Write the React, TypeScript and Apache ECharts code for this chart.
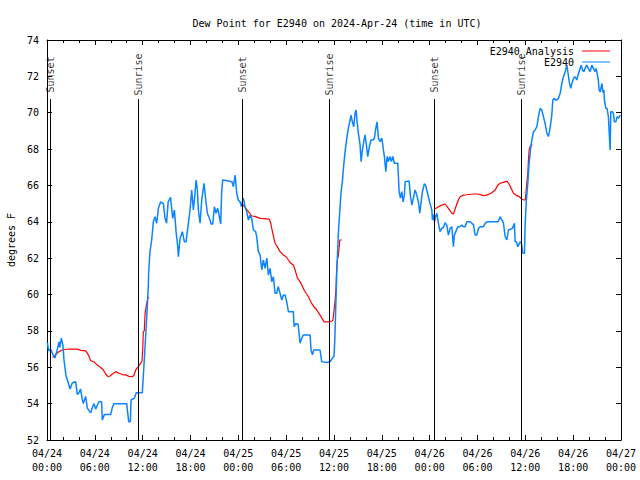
import React, { useEffect, useRef } from "react";
import * as echarts from "echarts";

// x values are hours after 2024-04-24 00:00 UTC
const xTickLabels = [
  "04/24\n00:00", "04/24\n06:00", "04/24\n12:00", "04/24\n18:00",
  "04/25\n00:00", "04/25\n06:00", "04/25\n12:00", "04/25\n18:00",
  "04/26\n00:00", "04/26\n06:00", "04/26\n12:00", "04/26\n18:00",
  "04/27\n00:00",
];

const sunTimes = [0.41, 11.46, 24.5, 35.42, 48.6, 59.51];
const sunLabels = ["Sunset", "Sunrise", "Sunset", "Sunrise", "Sunset", "Sunrise"];

const analysisNight1 = [
  [0.67, 56.55], [0.9, 56.6], [1.09, 56.7], [1.5, 56.86], [1.92, 56.95], [2.34, 56.99],
  [2.76, 57.0], [3.8, 57.0], [4.23, 56.93], [4.85, 56.9], [5.1, 56.75], [5.27, 56.6],
  [5.48, 56.36], [5.9, 56.3], [6.31, 56.12], [6.73, 55.99], [7.07, 55.85], [7.36, 55.63],
  [7.65, 55.48], [7.9, 55.52], [8.2, 55.63], [8.62, 55.76], [9.03, 55.67], [9.45, 55.6],
  [9.87, 55.58], [10.29, 55.5], [10.7, 55.48], [10.92, 55.56], [11.13, 55.85], [11.46, 56.03],
  [11.7, 56.2], [11.9, 56.3], [12.0, 56.86], [12.08, 57.96], [12.2, 58.0], [12.3, 58.96],
  [12.5, 59.5], [12.65, 59.8], [12.8, 59.85],
];

const analysisNight2 = [
  [24.6, 64.95], [24.76, 64.83], [25.26, 64.56], [25.68, 64.32], [26.1, 64.3], [26.73, 64.19],
  [27.89, 64.15], [28.07, 63.92], [28.32, 63.37], [28.61, 62.82], [28.9, 62.63], [29.23, 62.36],
  [29.65, 62.17], [29.99, 62.08], [30.28, 61.9], [30.58, 61.72], [30.9, 61.63], [31.12, 61.35],
  [31.41, 60.9], [31.74, 60.71], [31.96, 60.52], [32.25, 60.25], [32.5, 60.07], [32.79, 59.88],
  [33.09, 59.6], [33.41, 59.37], [33.84, 59.15], [34.25, 58.87], [34.76, 58.5], [35.29, 58.5],
  [35.85, 58.56], [36.01, 59.15], [36.14, 59.7], [36.26, 60.43], [36.3, 61.07], [36.42, 61.9],
  [36.55, 62.17], [36.68, 62.72], [36.72, 63.0], [36.98, 63.0],
];

const analysisNight3 = [
  [48.6, 64.69], [49.1, 64.83], [49.52, 64.92], [49.94, 64.98], [50.35, 64.74], [50.78, 64.47],
  [50.98, 64.43], [51.19, 64.69], [51.4, 64.98], [51.6, 65.2], [51.82, 65.38], [52.23, 65.47],
  [52.66, 65.49], [53.49, 65.53], [54.12, 65.53], [54.74, 65.44], [55.17, 65.47], [55.8, 65.6],
  [56.21, 65.75], [56.55, 66.02], [56.84, 66.12], [57.25, 66.17], [57.68, 66.24], [57.9, 66.12],
  [58.22, 65.84], [58.51, 65.57], [58.93, 65.44], [59.26, 65.38], [59.56, 65.24], [59.85, 65.2],
  [60.0, 65.2], [60.18, 66.12], [60.31, 66.67], [60.39, 67.4], [60.48, 67.95], [60.6, 68.13],
  [60.73, 68.23], [60.89, 68.23],
];

const observedDay1 = [
  [0.05, 57.35], [0.2, 56.9], [0.45, 57.0], [0.75, 56.7], [1.0, 56.5], [1.3, 57.0], [1.5, 57.4],
  [1.6, 57.1], [1.8, 57.6], [2.0, 57.2], [2.13, 56.4], [2.4, 55.5], [2.63, 55.2], [2.9, 54.8],
  [3.18, 55.15], [3.6, 55.2], [3.8, 54.5], [4.0, 54.6], [4.2, 54.8], [4.4, 54.3], [4.55, 54.0],
  [4.85, 54.4], [5.06, 53.75], [5.3, 53.6], [5.48, 53.5], [5.7, 53.8], [5.9, 54.0], [6.1, 53.7],
  [6.3, 53.9], [6.5, 54.1], [6.85, 54.1], [6.94, 53.1], [7.2, 53.4], [7.99, 53.4], [8.2, 53.8],
  [8.4, 54.0], [10.0, 54.0], [10.15, 53.4], [10.25, 53.0], [10.45, 53.0], [10.55, 54.2],
  [10.95, 54.3], [11.2, 54.6], [11.95, 54.6], [12.05, 55.3], [12.2, 56.4], [12.4, 57.9],
  [12.6, 59.5], [12.71, 60.5], [12.75, 61.2], [12.92, 62.36], [13.13, 63.0], [13.34, 64.0],
  [13.55, 64.28], [13.76, 63.92], [13.97, 64.74], [14.26, 65.1], [14.6, 65.0], [14.8, 64.19],
  [15.0, 63.92], [15.2, 65.1], [15.5, 65.35], [15.77, 64.19], [15.98, 64.65], [16.19, 63.46],
  [16.4, 62.63], [16.48, 62.08], [16.69, 63.09], [16.98, 63.46], [17.23, 62.9], [17.44, 62.9],
  [17.65, 63.64], [17.94, 64.65], [18.15, 65.75], [18.36, 64.65], [18.55, 65.5], [18.7, 66.3],
  [18.85, 65.8], [18.99, 64.65], [19.2, 63.92], [19.41, 65.2], [19.7, 66.12], [19.91, 65.2],
  [20.12, 64.47], [20.45, 64.1], [20.58, 63.88], [20.79, 63.88], [21.0, 64.83], [21.2, 64.47],
  [21.41, 64.74], [21.54, 64.47], [21.79, 63.88], [21.91, 65.66], [22.04, 66.3], [22.63, 66.26],
  [23.2, 66.2], [23.38, 65.93], [23.6, 66.57], [23.8, 65.57], [24.0, 65.2], [24.2, 65.1],
  [24.4, 64.83], [24.5, 65.1], [24.63, 65.3], [24.84, 64.83],
];

const observedDay2 = [
  [25.05, 64.56], [25.26, 64.1], [25.47, 64.37], [25.68, 64.19], [25.89, 63.55], [26.17, 63.46],
  [26.3, 63.19], [26.51, 62.36], [26.73, 62.18], [26.94, 61.35], [27.14, 61.9], [27.35, 61.44],
  [27.57, 62.0], [27.77, 61.07], [27.98, 61.44], [28.19, 60.71], [28.4, 60.98], [28.6, 60.07],
  [28.82, 60.07], [29.0, 60.44], [29.23, 60.07], [29.45, 59.7], [29.65, 59.98], [29.86, 59.98],
  [30.07, 59.6], [30.28, 59.06], [30.9, 59.06], [31.0, 58.23], [31.2, 58.4], [31.5, 58.38],
  [31.74, 57.32], [31.96, 57.6], [32.16, 57.78], [33.0, 57.78], [33.12, 56.95], [33.3, 56.68],
  [33.46, 56.95], [34.25, 56.95], [34.46, 56.31], [35.1, 56.26], [35.5, 56.3], [35.8, 56.5],
  [36.0, 56.6], [36.1, 57.5], [36.2, 59.0], [36.3, 60.5], [36.4, 61.8], [36.55, 63.4],
  [36.7, 64.4], [36.89, 65.66], [37.05, 66.2], [37.18, 66.94], [37.39, 67.86], [37.6, 68.59],
  [37.8, 69.14], [38.02, 69.6], [38.14, 69.87], [38.3, 69.5], [38.48, 69.23], [38.64, 69.97],
  [38.77, 70.15], [38.9, 69.5], [39.06, 68.87], [39.27, 68.23], [39.4, 67.31], [39.56, 67.95],
  [39.73, 68.41], [39.9, 68.78], [40.06, 68.23], [40.23, 67.59], [40.44, 68.14], [40.65, 68.5],
  [40.9, 68.5], [41.07, 68.6], [41.24, 69.14], [41.4, 69.5], [41.57, 68.6], [41.78, 68.41],
  [42.0, 68.6], [42.2, 67.95], [42.32, 67.59], [42.5, 66.76], [42.66, 67.59], [42.82, 67.31],
  [43.0, 67.59], [43.2, 67.31], [43.37, 67.59], [43.58, 67.22], [44.0, 67.22], [44.17, 65.66],
  [44.33, 65.3], [44.5, 65.66], [44.67, 65.1], [44.83, 65.47], [44.92, 66.2], [45.42, 66.24],
  [45.58, 65.47], [45.76, 64.92], [45.96, 65.3], [46.17, 65.75], [46.39, 65.47], [46.59, 65.1],
  [46.76, 64.47], [46.93, 65.1], [47.09, 65.66], [47.34, 66.1], [47.5, 66.0],
];

const observedDay3 = [
  [47.84, 65.38], [48.05, 65.0], [48.27, 64.65], [48.35, 64.1], [48.45, 64.4], [48.6, 64.0],
  [48.75, 64.3], [48.9, 64.47], [49.1, 63.92], [49.3, 63.46], [49.52, 63.64], [49.73, 63.7],
  [49.94, 63.95], [50.15, 63.8], [50.35, 63.27], [50.57, 63.64], [50.78, 63.73], [50.98, 62.63],
  [51.1, 63.27], [51.28, 63.46], [51.53, 63.73], [51.8, 63.73], [52.03, 63.83], [52.24, 63.73],
  [52.45, 63.73], [52.66, 64.0], [53.08, 64.0], [53.29, 63.92], [53.5, 63.83], [53.7, 63.27],
  [53.91, 63.27], [54.12, 63.64], [54.33, 63.73], [54.74, 63.73], [54.95, 63.9], [55.17, 64.0],
  [56.42, 64.0], [56.6, 64.0], [56.84, 64.28], [57.05, 64.1], [57.25, 63.95], [57.47, 63.18],
  [57.68, 63.0], [57.88, 63.55], [58.38, 63.64], [58.63, 63.92], [58.72, 62.9], [58.9, 62.9],
  [59.05, 62.63], [59.35, 62.9], [59.5, 62.85], [59.68, 62.27], [59.89, 62.27], [59.97, 63.73],
  [60.1, 65.02], [60.31, 66.12], [60.48, 67.22], [60.64, 67.95], [60.82, 68.5], [61.02, 68.96],
  [61.23, 69.05], [61.45, 69.23], [61.64, 69.78], [61.86, 70.24], [62.06, 70.15], [62.27, 69.78],
  [62.48, 69.42], [62.7, 68.87], [62.9, 68.69], [63.1, 69.14], [63.32, 69.87], [63.45, 70.7],
  [63.65, 70.79], [63.8, 70.7], [63.95, 70.7], [64.15, 70.79], [64.37, 71.07], [64.58, 71.62],
  [64.78, 71.98], [65.0, 72.26], [65.2, 72.62], [65.3, 72.35], [65.5, 71.71], [65.7, 71.34],
  [65.83, 71.6], [66.04, 71.89], [66.25, 71.98], [66.46, 71.8], [66.67, 72.17], [66.88, 72.44],
  [67.0, 72.62], [67.17, 72.35], [67.34, 72.26], [67.5, 72.44], [67.7, 72.62], [67.9, 72.44],
  [68.13, 72.26], [68.34, 72.62], [68.55, 72.44], [68.75, 72.26], [68.88, 72.44], [69.04, 72.08],
  [69.15, 71.8], [69.26, 71.25], [69.4, 71.15], [69.6, 71.62], [69.75, 71.1], [69.85, 71.25],
  [69.92, 70.7], [70.1, 70.24], [70.25, 70.24], [70.42, 69.78], [70.55, 68.68], [70.64, 67.95],
  [70.72, 70.06], [70.9, 70.06], [71.05, 69.96], [71.17, 69.5], [71.35, 69.5], [71.52, 69.78],
  [71.7, 69.7], [71.9, 69.87],
];

const FONT = "DejaVu Sans Mono";
const BLUE = "#0a84ff";
const RED = "#ff0000";

export default function App() {
  const ref = useRef<HTMLDivElement>(null);

  useEffect(() => {
    if (!ref.current) return;
    const chart = echarts.init(ref.current, null, { renderer: "svg" });

    const axisCommon = {
      type: "value",
      axisLine: { show: true, onZero: false, lineStyle: { color: "#000", width: 1 } },
      axisTick: { show: true, inside: true, length: 5, lineStyle: { color: "#000" } },
      splitLine: { show: false },
    };

    const xCommon = {
      ...axisCommon,
      min: 0,
      max: 72,
      interval: 6,
      minorTick: { show: true, splitNumber: 3, length: 3, lineStyle: { color: "#000" } },
      minorSplitLine: { show: false },
    };

    const yCommon = {
      ...axisCommon,
      min: 52,
      max: 74,
      interval: 2,
    };

    const observed = [...observedDay1, ...observedDay2, ...observedDay3];

    const option = {
      animation: false,
      textStyle: { fontFamily: FONT },
      title: {
        text: "Dew Point for E2940 on 2024-Apr-24 (time in UTC)",
        left: 332,
        textAlign: "center",
        top: 13,
        textStyle: { fontFamily: FONT, fontSize: 10, fontWeight: "normal", color: "#000" },
      },
      legend: {
        orient: "vertical",
        right: 25,
        top: 41,
        align: "right",
        itemWidth: 28,
        itemHeight: 1,
        itemGap: 1,
        icon: "rect",
        itemStyle: { borderWidth: 0 },
        lineStyle: { width: 0 },
        textStyle: { fontFamily: FONT, fontSize: 10, color: "#000", padding: [0, 3, 0, 0] },
        data: ["E2940_Analysis", "E2940"],
      },
      grid: { left: 47, right: 19, top: 40, bottom: 40, outerBoundsMode: "none", containLabel: false },
      xAxis: [
        {
          ...xCommon,
          position: "bottom",
          axisLabel: {
            show: true,
            fontFamily: FONT,
            fontSize: 10,
            color: "#000",
            lineHeight: 14,
            margin: 6,
            formatter: (v: number) => xTickLabels[Math.round(v / 6)] ?? "",
          },
        },
        {
          ...xCommon,
          position: "top",
          axisLabel: { show: false },
        },
      ],
      yAxis: [
        {
          ...yCommon,
          position: "left",
          name: "degrees F",
          nameLocation: "middle",
          nameGap: 31,
          nameRotate: 90,
          nameTextStyle: { fontFamily: FONT, fontSize: 10, color: "#000" },
          axisLabel: { show: true, fontFamily: FONT, fontSize: 10, color: "#000", margin: 8 },
        },
        {
          ...yCommon,
          position: "right",
          axisLabel: { show: false },
        },
      ],
      series: [
        ...[analysisNight1, analysisNight2, analysisNight3].map((d) => ({
          name: "E2940_Analysis",
          type: "line",
          data: d,
          showSymbol: false,
          symbol: "none",
          color: RED,
          itemStyle: { color: RED },
          lineStyle: { color: RED, width: 1.2 },
          z: 2,
        })),
        {
          name: "E2940",
          type: "line",
          data: observed,
          showSymbol: false,
          symbol: "none",
          color: BLUE,
          itemStyle: { color: BLUE },
          lineStyle: { color: BLUE, width: 1.5 },
          z: 3,
        },
        {
          name: "sun",
          type: "scatter",
          symbolSize: 0,
          data: sunTimes.map((t, i) => ({ value: [t, 72.1], name: sunLabels[i] })),
          label: {
            show: true,
            position: "inside",
            rotate: 90,
            formatter: "{b}",
            fontFamily: FONT,
            fontSize: 10,
            color: "#000",
          },
          markLine: {
            silent: true,
            symbol: ["none", "none"],
            label: { show: false },
            lineStyle: { color: "#000", width: 1, type: "solid" },
            data: sunTimes.map((t) => [{ coord: [t, 52] }, { coord: [t, 70.75] }]),
          },
          z: 4,
        },
      ],
    };

    chart.setOption(option as any);
    return () => chart.dispose();
  }, []);

  return (
    <div
      ref={ref}
      style={{ position: "fixed", left: 0, top: 0, width: 640, height: 480, background: "#fff" }}
    />
  );
}
